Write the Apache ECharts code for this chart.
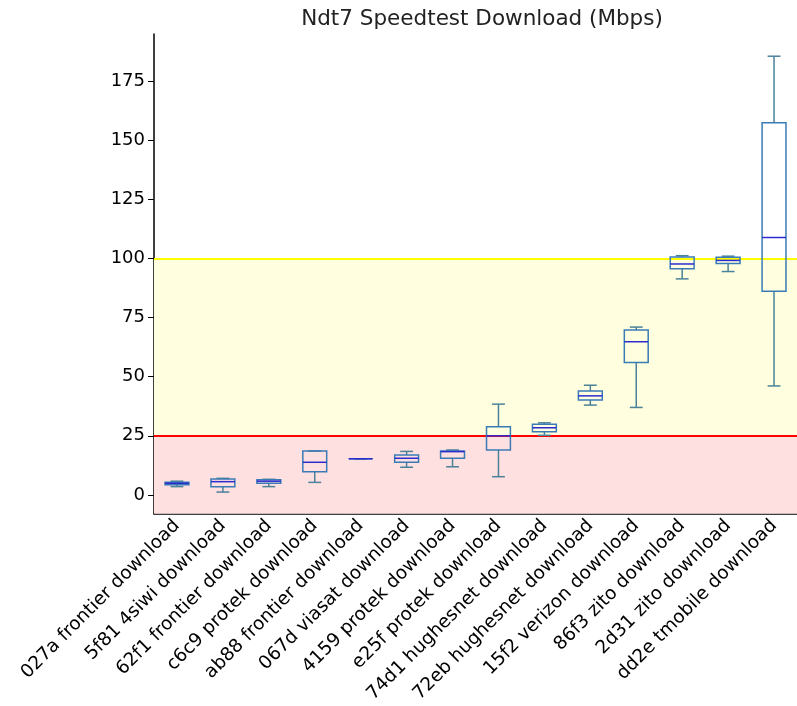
<!DOCTYPE html>
<html>
<head>
<meta charset="utf-8">
<script src="https://cdn.jsdelivr.net/npm/echarts@6/dist/echarts.min.js"></script>
<style>
  html, body { margin: 0; padding: 0; background: #fff; }
  #chart { width: 797px; height: 706px; }
</style>
</head>
<body>
<div id="chart"></div>
<script>
// box stats
const categories = [
  "027a frontier download", "5f81 4siwi download", "62f1 frontier download",
  "c6c9 protek download", "ab88 frontier download", "067d viasat download",
  "4159 protek download", "e25f protek download", "74d1 hughesnet download",
  "72eb hughesnet download", "15f2 verizon download", "86f3 zito download",
  "2d31 zito download", "dd2e tmobile download"
];
const minVals = [3.5, 1.2, 3.5, 5.3, 15.3, 11.7, 11.9, 7.7, 25.2, 38.0, 37.0, 91.4, 94.5, 46.1];
const q1Vals  = [4.3, 3.5, 4.9, 9.8, 15.3, 13.8, 15.5, 19.0, 26.7, 40.2, 56.0, 95.7, 97.9, 86.2];
const medVals = [4.9, 5.6, 5.8, 13.8, 15.3, 15.5, 18.3, 25.0, 28.4, 41.9, 64.8, 97.7, 99.2, 108.9];
const q3Vals  = [5.3, 6.7, 6.4, 18.6, 15.3, 16.9, 18.6, 28.8, 29.9, 44.0, 69.8, 100.7, 100.5, 157.4];
const maxVals = [5.8, 7.0, 6.6, 18.6, 15.3, 18.4, 19.0, 38.4, 30.5, 46.4, 71.0, 101.2, 101.0, 185.6];

const yTicks = [0, 25, 50, 75, 100, 125, 150, 175];
const lowLimit = 25;
const highLimit = 100;

const chart = echarts.init(document.getElementById("chart"));

const boxData = categories.map((c, i) => [i, minVals[i], q1Vals[i], medVals[i], q3Vals[i], maxVals[i]]);

function renderBox(params, api) {
  const x = api.value(0);
  const band = api.size([1, 0])[0];
  const w = band * 0.52;
  const cap = band * 0.28;
  const pt = (v) => api.coord([x, v]);
  const pMin = pt(api.value(1));
  const pQ1 = pt(api.value(2));
  const pMed = pt(api.value(3));
  const pQ3 = pt(api.value(4));
  const pMax = pt(api.value(5));
  const cx = pMed[0];
  const boxColor = "#3b7bb5";
  const whiskColor = "#4a8299";
  const line = (x1, y1, x2, y2, color) => ({
    type: "line",
    shape: { x1: x1, y1: y1, x2: x2, y2: y2 },
    style: { stroke: color, lineWidth: 1.5 }
  });
  return {
    type: "group",
    children: [
      line(cx, pQ3[1], cx, pMax[1], whiskColor),
      line(cx, pQ1[1], cx, pMin[1], whiskColor),
      line(cx - cap / 2, pMax[1], cx + cap / 2, pMax[1], whiskColor),
      line(cx - cap / 2, pMin[1], cx + cap / 2, pMin[1], whiskColor),
      {
        type: "rect",
        shape: { x: cx - w / 2, y: pQ3[1], width: w, height: pQ1[1] - pQ3[1] },
        style: { fill: "none", stroke: boxColor, lineWidth: 1.5 }
      },
      line(cx - w / 2, pMed[1], cx + w / 2, pMed[1], "#2b2bd0")
    ]
  };
}

const option = {
  animation: false,
  title: {
    text: "Ndt7 Speedtest Download (Mbps)",
    left: 477,
    top: 3,
    textAlign: "center",
    textStyle: { fontFamily: "DejaVu Sans", fontSize: 21.5, fontWeight: "normal", color: "#222" }
  },
  grid: { left: 154, top: 34, right: 0, bottom: 191 },
  xAxis: {
    type: "category",
    data: categories,
    axisLine: { onZero: false, lineStyle: { color: "#000", width: 1.5 } },
    axisTick: { alignWithLabel: true, length: 6, lineStyle: { color: "#000" } },
    axisLabel: {
      rotate: 45,
      interval: 0,
      margin: 9,
      color: "#000",
      fontFamily: "DejaVu Sans",
      fontSize: 18.5
    },
    splitLine: { show: false }
  },
  yAxis: {
    type: "value",
    min: -8,
    max: 195,
    axisLine: { show: true, lineStyle: { color: "#000", width: 1.5 } },
    axisTick: { show: true, length: 6, customValues: yTicks, lineStyle: { color: "#000" } },
    axisLabel: {
      customValues: yTicks,
      margin: 9,
      color: "#000",
      fontFamily: "DejaVu Sans",
      fontSize: 18
    },
    splitLine: { show: false }
  },
  series: [
    {
      type: "line",
      data: [],
      z: 1,
      silent: true,
      markArea: {
        silent: true,
        data: [
          [{ yAxis: -8, itemStyle: { color: "#ffe0e0" } }, { yAxis: lowLimit }],
          [{ yAxis: lowLimit, itemStyle: { color: "#ffffe0" } }, { yAxis: highLimit }]
        ]
      },
      markLine: {
        silent: true,
        symbol: "none",
        label: { show: false },
        data: [
          { yAxis: lowLimit, lineStyle: { color: "#ff0000", width: 2, type: "solid" } },
          { yAxis: highLimit, lineStyle: { color: "#ffff00", width: 2, type: "solid" } }
        ]
      }
    },
    {
      type: "custom",
      z: 5,
      renderItem: renderBox,
      encode: { x: 0, y: [1, 2, 3, 4, 5] },
      data: boxData
    }
  ]
};

chart.setOption(option);
window.addEventListener("resize", function () {
  chart.resize();
});
</script>
</body>
</html>
